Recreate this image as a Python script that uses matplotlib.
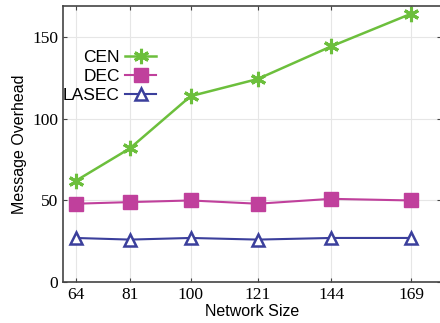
import matplotlib
matplotlib.use("Agg")
import matplotlib.pyplot as plt

sizes = [64, 81, 100, 121, 144, 169]
cen = [62, 82, 114, 124.5, 144.5, 164.5]
dec = [48, 49, 50, 48, 51, 50]
lasec = [27, 26, 27, 26, 27, 27]

fig = plt.figure(figsize=(4.4, 3.23), dpi=100)
ax = fig.add_axes([0.143, 0.127, 0.86, 0.853])

ax.plot(sizes, cen, color='#6cbf3c', lw=1.8, marker=(6, 2, 0), ms=11, mew=2.2, label='CEN')
ax.plot(sizes, dec, color='#c0409c', lw=1.5, marker='s', ms=10, label='DEC')
ax.plot(sizes, lasec, color='#3b3f9c', lw=1.5, marker='^', ms=9, mfc='white', mew=1.8, label='LASEC')

ax.set_xlim(60, 178.5)
ax.set_ylim(0, 169)
ax.set_xticks(sizes)
ax.set_yticks([0, 50, 100, 150])
ax.tick_params(direction='in', top=True, right=True, length=3, color='#444444')
for lab in ax.get_xticklabels() + ax.get_yticklabels():
    lab.set_family('Liberation Serif')
    lab.set_fontsize(12.5)
ax.grid(True, color='#e6e6e6', lw=0.8)
ax.spines['right'].set_visible(False)
for s in ['left', 'bottom', 'top']:
    ax.spines[s].set_color('#444444')
    ax.spines[s].set_linewidth(1.2)

ax.set_xlabel('Network Size', family='Liberation Sans', fontsize=11.5, labelpad=1)
ax.set_ylabel('Message Overhead', family='Liberation Sans', fontsize=11.5, labelpad=4)

ax.legend(loc='upper left', bbox_to_anchor=(-0.032, 0.885), frameon=False, markerfirst=False,
          prop={'family': 'Liberation Sans', 'size': 12.5}, handlelength=1.8, handletextpad=0.3,
          labelspacing=0.2, borderpad=0.2)

fig.savefig('out.png')
